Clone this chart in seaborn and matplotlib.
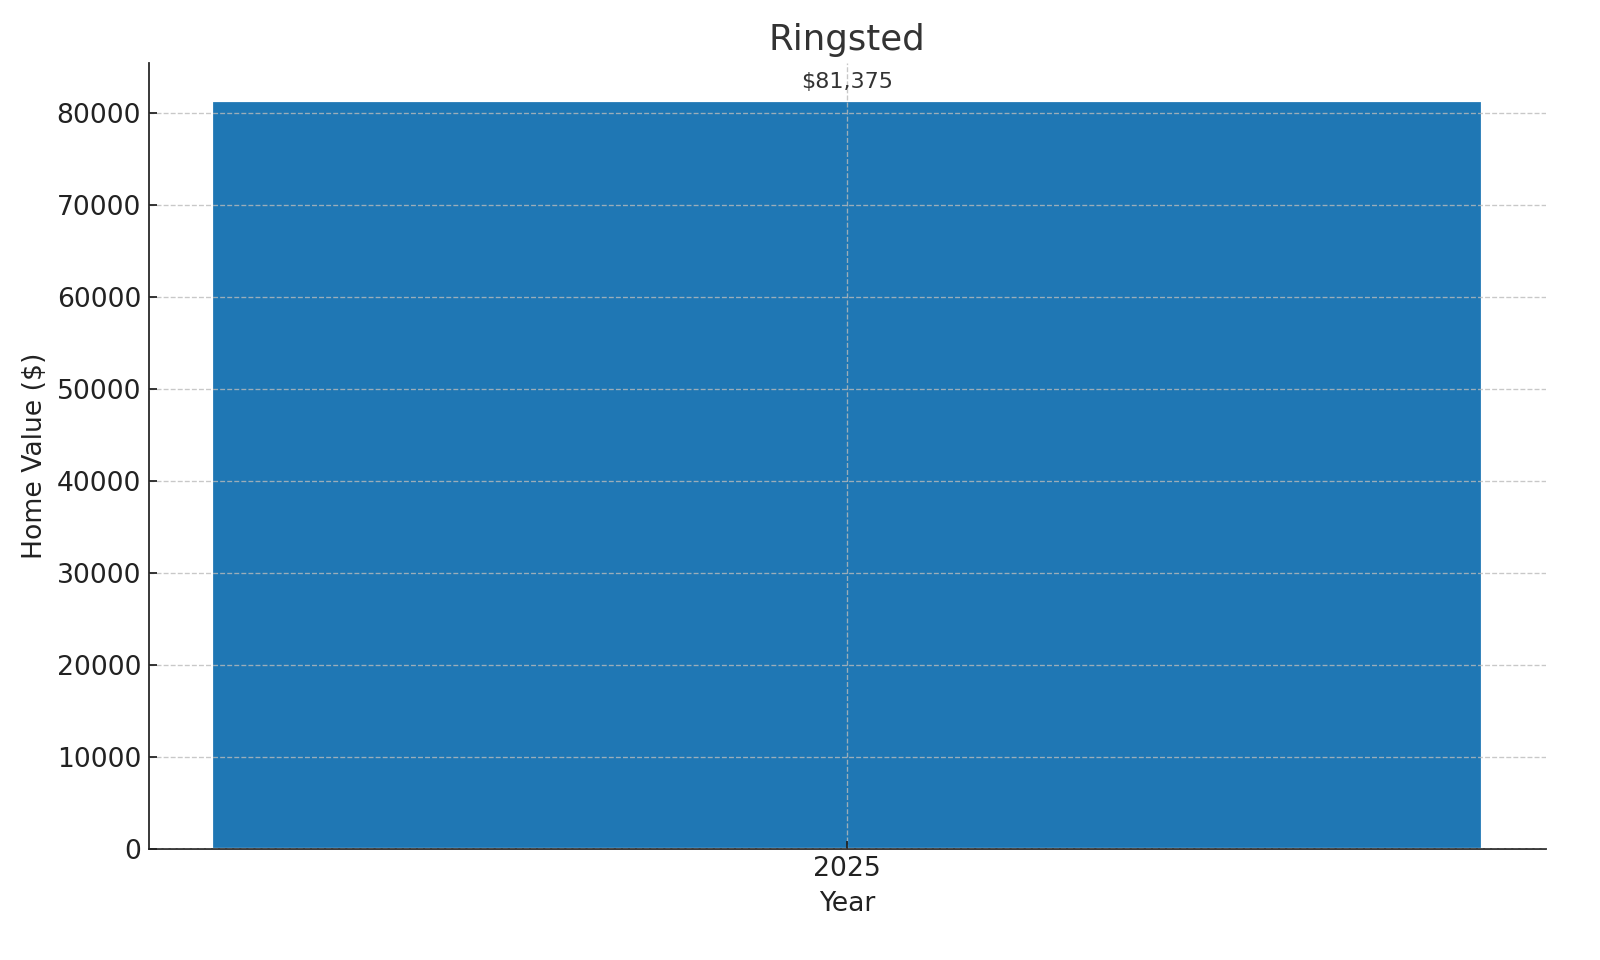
import matplotlib
matplotlib.use("Agg")
import matplotlib.pyplot as plt
import seaborn as sns
import pandas as pd

years = ["2025"]
values = [81375]
title = "Ringsted"

sns.set_style("ticks")
plt.rcParams['font.family'] = ['DejaVu Sans']

df = pd.DataFrame({"Year": years, "Value": values})

fig, ax = plt.subplots(figsize=(10, 6), dpi=160)
fig.subplots_adjust(left=0.093, right=0.966, top=0.934, bottom=0.116)

sns.barplot(data=df, x="Year", y="Value", color="#1f77b4", saturation=1, width=0.8, ax=ax, zorder=1)

ax.set_xlim(-0.44, 0.44)
ax.set_ylim(0, max(values) * 1.05)

for i, v in enumerate(values):
    ax.annotate(f"${v:,.0f}", (i, v), xytext=(0, 4), textcoords="offset points",
                ha="center", va="bottom", fontsize=10, color="#333333")

ax.grid(True, linestyle="--", color="#bbbbbb", linewidth=0.6, alpha=0.8, zorder=3)
ax.set_axisbelow(False)

ax.set_title(title, fontsize=16, color="#333333")
ax.set_xlabel("Year", fontsize=12, color="#222222")
ax.set_ylabel("Home Value ($)", fontsize=12, color="#222222")
ax.tick_params(axis="both", direction="in", labelsize=12, colors="#222222")
ax.ticklabel_format(axis="y", style="plain")
sns.despine(ax=ax)

fig.savefig("out.png", dpi=160)
